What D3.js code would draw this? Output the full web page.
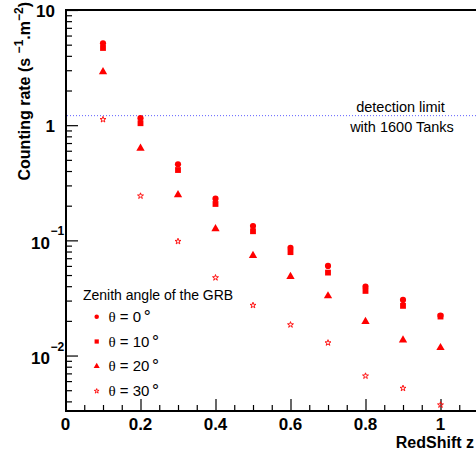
<!DOCTYPE html>
<html>
<head>
<meta charset="utf-8">
<script src="https://cdn.jsdelivr.net/npm/d3@7"></script>
<style>
  body { margin: 0; background: #fff; }
  svg { display: block; font-family: "Liberation Sans", Arial, sans-serif; }
</style>
</head>
<body>
<div id="chart"></div>
<script>
// redshift values and counting rates
const redshift = [0.1, 0.2, 0.3, 0.4, 0.5, 0.6, 0.7, 0.8, 0.9, 1.0]
const rateTheta0 = [5.14, 1.15, 0.458, 0.230, 0.133, 0.086, 0.060, 0.0396, 0.0304, 0.0222]
const rateTheta10 = [4.68, 1.04, 0.408, 0.207, 0.120, 0.079, 0.0525, 0.0364, 0.0270, 0.0218]
const rateTheta20 = [2.90, 0.630, 0.249, 0.126, 0.0737, 0.0484, 0.0329, 0.0197, 0.01365, 0.0117]
const rateTheta30 = [1.12, 0.243, 0.098, 0.0474, 0.0273, 0.0185, 0.0129, 0.00665, 0.0052, 0.00373]
const seriesNames = [`0`, `10`, `20`, `30`]
const detectionLimit = 1.21
const xTicks = [0, 0.2, 0.4, 0.6, 0.8, 1]
const yDecades = [10, 1, 0.1, 0.01]

const width = 476, height = 452
const svg = d3.select(`#chart`).append(`svg`).attr(`width`, width).attr(`height`, height)

const x = d3.scaleLinear().domain([0, 1.1]).range([65.5, 478])
const y = d3.scaleLog().domain([0.0033, 10]).range([411, 10])

const red = `#ff0000`
const symbols = [d3.symbolCircle, d3.symbolSquare, d3.symbolTriangle, d3.symbolStar]
const symSizes = [30, 34, 30, 11]
const legendSizes = [16, 18, 16, 7]
const series = [rateTheta0, rateTheta10, rateTheta20, rateTheta30]

// detection limit line
svg.append(`line`)
    .attr(`x1`, 67).attr(`x2`, width)
    .attr(`y1`, y(detectionLimit)).attr(`y2`, y(detectionLimit))
    .attr(`stroke`, `#5f5fff`).attr(`stroke-width`, 1)
    .attr(`stroke-dasharray`, `1,2`)

svg.append(`text`).attr(`x`, 400.5).attr(`y`, 111.5).attr(`text-anchor`, `middle`)
    .attr(`font-size`, 14.5).text(`detection limit`)
svg.append(`text`).attr(`x`, 402).attr(`y`, 131.5).attr(`text-anchor`, `middle`)
    .attr(`font-size`, 14.5).text(`with 1600 Tanks`)

// axes: ticks point inward
const xMinor = d3.range(0, 1.1, 0.05).filter(v => xTicks.every(t => Math.abs(t - v) > 1e-6))
const xAxisG = svg.append(`g`).attr(`transform`, `translate(0,411)`)
xAxisG.call(d3.axisBottom(x).tickValues(xTicks).tickSize(-12).tickFormat(``))
xAxisG.append(`g`).call(d3.axisBottom(x).tickValues(xMinor).tickSize(-6).tickFormat(``))
xAxisG.selectAll(`.domain`).remove()
xAxisG.selectAll(`line`).attr(`stroke`, `#000`).attr(`stroke-width`, 1.2)

const yMinor = y.ticks().filter(v => yDecades.indexOf(v) < 0)
const yAxisG = svg.append(`g`).attr(`transform`, `translate(66,0)`)
yAxisG.call(d3.axisLeft(y).tickValues(yDecades).tickSize(-12).tickFormat(``))
yAxisG.append(`g`).call(d3.axisLeft(y).tickValues(yMinor).tickSize(-6).tickFormat(``))
yAxisG.selectAll(`.domain`).remove()
yAxisG.selectAll(`line`).attr(`stroke`, `#000`).attr(`stroke-width`, 1.2)

// frame lines
svg.append(`path`)
    .attr(`d`, `M${width},10 H66 V411 H${width}`)
    .attr(`fill`, `none`).attr(`stroke`, `#000`).attr(`stroke-width`, 2)

// x tick labels
svg.append(`g`).selectAll(`text`).data(xTicks).join(`text`)
    .attr(`x`, d => x(d)).attr(`y`, 430)
    .attr(`text-anchor`, `middle`).attr(`font-size`, 17).attr(`font-weight`, `bold`)
    .text(d => d3.format(`~g`)(d))

// y tick labels
const yLab = svg.append(`g`)
yLab.append(`text`).attr(`x`, 55).attr(`y`, y(10) + 7).attr(`text-anchor`, `end`)
    .attr(`font-size`, 17).attr(`font-weight`, `bold`).text(`10`)
yLab.append(`text`).attr(`x`, 55).attr(`y`, y(1) + 7).attr(`text-anchor`, `end`)
    .attr(`font-size`, 17).attr(`font-weight`, `bold`).text(`1`)
;[[0.1, `−1`], [0.01, `−2`]].forEach(([v, ex]) => {
    yLab.append(`text`).attr(`x`, 50).attr(`y`, y(v) + 8.5).attr(`text-anchor`, `end`)
        .attr(`font-size`, 17).attr(`font-weight`, `bold`).text(`10`)
    yLab.append(`text`).attr(`x`, 50.5).attr(`y`, y(v) - 5).attr(`font-size`, 12)
        .attr(`font-weight`, `bold`).text(ex)
})

// axis titles
svg.append(`text`).attr(`x`, 474).attr(`y`, 448).attr(`text-anchor`, `end`)
    .attr(`font-size`, 16).attr(`font-weight`, `bold`).text(`RedShift z`)

const yTitle = svg.append(`text`).attr(`transform`, `translate(30,2) rotate(-90)`)
    .attr(`text-anchor`, `end`).attr(`font-size`, 16).attr(`font-weight`, `bold`)
yTitle.append(`tspan`).text(`Counting rate (s `)
yTitle.append(`tspan`).attr(`dy`, -7).attr(`font-size`, 12).text(`−1`)
yTitle.append(`tspan`).attr(`dy`, 7).text(`.m`)
yTitle.append(`tspan`).attr(`dy`, -7).attr(`font-size`, 12).text(`−2`)
yTitle.append(`tspan`).attr(`dy`, 7).text(`)`)

// markers
series.forEach((vals, i) => {
    const sym = d3.symbol().type(symbols[i]).size(symSizes[i])
    svg.append(`g`).selectAll(`path`).data(redshift.map((z, k) => [z, vals[k]])).join(`path`)
        .attr(`transform`, d => `translate(${x(d[0])},${y(d[1])})`)
        .attr(`d`, sym)
        .attr(`fill`, i === 3 ? `none` : red)
        .attr(`stroke`, i === 3 ? red : `none`)
        .attr(`stroke-width`, 0.9)
})

// legend
const legend = svg.append(`g`)
legend.append(`text`).attr(`x`, 83).attr(`y`, 300).attr(`font-size`, 14)
    .text(`Zenith angle of the GRB`)
seriesNames.forEach((name, i) => {
    const cy = 316.7 + i * 24.8
    legend.append(`path`)
        .attr(`transform`, `translate(96.7,${cy})`)
        .attr(`d`, d3.symbol().type(symbols[i]).size(legendSizes[i]))
        .attr(`fill`, i === 3 ? `none` : red)
        .attr(`stroke`, i === 3 ? red : `none`)
        .attr(`stroke-width`, 0.9)
    const t = legend.append(`text`).attr(`x`, 108.5).attr(`y`, cy + 5).attr(`font-size`, 15)
    t.append(`tspan`).attr(`font-family`, `"Liberation Serif", serif`).text(`θ`)
    t.append(`tspan`).text(` = ${name}`)
    t.append(`tspan`).attr(`dx`, 2).attr(`font-size`, 16).attr(`font-family`, `"DejaVu Sans", sans-serif`).text(`°`)
})
</script>
</body>
</html>
